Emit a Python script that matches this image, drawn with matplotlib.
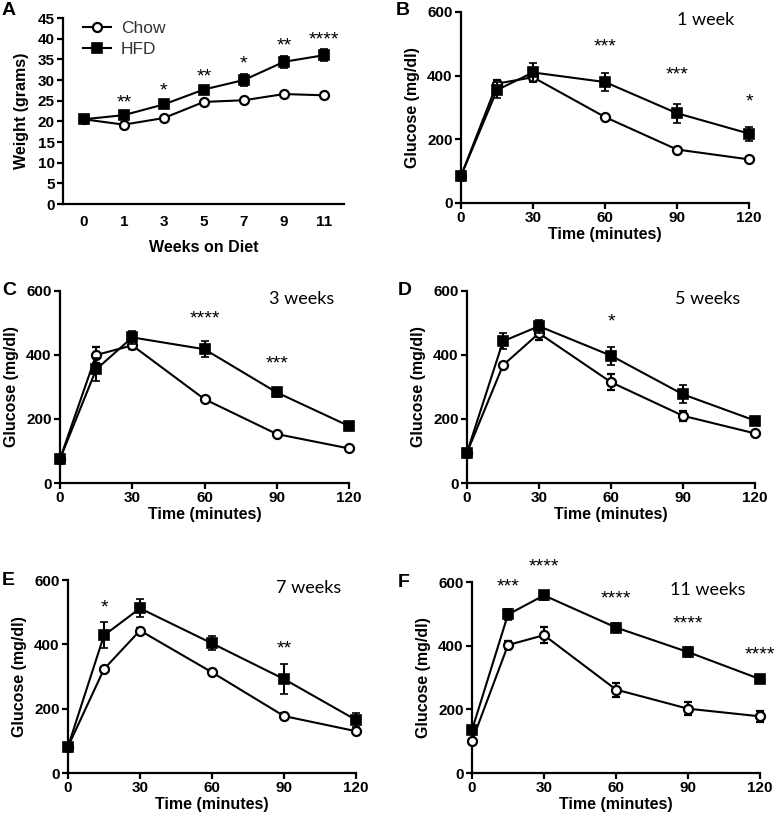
import matplotlib
matplotlib.use("Agg")
import matplotlib.pyplot as plt
from matplotlib.lines import Line2D

plt.rcParams['font.family'] = ['Liberation Sans', 'DejaVu Sans']

# --- Panel A: body weight ---
weeks = ['0', '1', '3', '5', '7', '9', '11']
chow_wt = [20.5, 19.2, 20.8, 24.7, 25.1, 26.6, 26.3]
chow_wt_err = [0.4, 0.4, 0.5, 0.5, 0.5, 0.5, 0.5]
hfd_wt = [20.5, 21.5, 24.1, 27.7, 30.0, 34.4, 36.0]
hfd_wt_err = [0.4, 0.5, 0.8, 0.7, 1.5, 1.5, 1.4]
wt_stars = ['', '**', '*', '**', '*', '**', '****']

# --- Panels B-F: glucose tolerance ---
times = [0, 15, 30, 60, 90, 120]
gtt_titles = ['1 week', '3 weeks', '5 weeks', '7 weeks', '11 weeks']
gtt_letters = ['B', 'C', 'D', 'E', 'F']
chow_glu = [
    [85, 375, 395, 270, 168, 137],
    [75, 400, 430, 262, 153, 108],
    [95, 368, 468, 315, 210, 155],
    [82, 323, 443, 313, 177, 130],
    [100, 402, 433, 262, 202, 178],
]
chow_glu_err = [
    [8, 10, 12, 8, 6, 6],
    [8, 25, 10, 8, 6, 6],
    [8, 8, 20, 25, 15, 6],
    [8, 8, 8, 8, 8, 6],
    [8, 12, 25, 22, 20, 18],
]
hfd_glu = [
    [85, 355, 410, 380, 282, 218],
    [75, 355, 455, 418, 283, 178],
    [95, 443, 490, 398, 277, 195],
    [82, 428, 512, 403, 292, 165],
    [135, 498, 558, 457, 380, 295],
]
hfd_glu_err = [
    [8, 25, 30, 28, 30, 22],
    [8, 35, 20, 25, 15, 8],
    [8, 25, 20, 28, 28, 8],
    [8, 40, 28, 22, 47, 22],
    [8, 18, 15, 15, 15, 8],
]
# (time, label, y position in mg/dl)
glu_stars = [
    [(60, '***', 462), (90, '***', 377), (120, '*', 290)],
    [(60, '****', 487), (90, '***', 344)],
    [(60, '*', 477)],
    [(15, '*', 487), (90, '**', 360)],
    [(15, '***', 557), (30, '****', 619), (60, '****', 520), (90, '****', 442), (120, '****', 344)],
]

W, H = 777, 821
fig = plt.figure(figsize=(W / 100, H / 100), dpi=100)

def add_ax(left, right, top, bottom):
    return fig.add_axes([left / W, 1 - bottom / H, (right - left) / W, (bottom - top) / H])

def style(ax):
    for s in ['top', 'right']:
        ax.spines[s].set_visible(False)
    for s in ['left', 'bottom']:
        ax.spines[s].set_linewidth(1.6)
    ax.tick_params(width=1.6, length=4, labelsize=11, pad=2)
    for lab in ax.get_xticklabels() + ax.get_yticklabels():
        lab.set_fontweight('bold')

def draw_pair(ax, x, c, ce, h, he):
    ax.errorbar(x, c, yerr=ce, color='black', lw=1.5, marker='o', ms=6.5, mfc='white',
                mew=1.6, capsize=3, elinewidth=1.5, capthick=1.5, clip_on=False, zorder=3)
    ax.errorbar(x, h, yerr=he, color='black', lw=1.5, marker='s', ms=6.5, mfc='black',
                mew=1.2, capsize=3, elinewidth=1.5, capthick=1.5, clip_on=False, zorder=4)

# Panel A
axA = add_ax(63, 344, 18, 204)
xi = list(range(len(weeks)))
draw_pair(axA, xi, chow_wt, chow_wt_err, hfd_wt, hfd_wt_err)
axA.set_xlim(-0.52, 6.5)
axA.set_ylim(0, 45)
axA.set_yticks(range(0, 46, 5))
axA.set_xticks(xi)
axA.set_xticklabels(weeks)
axA.set_ylabel('Weight (grams)', fontsize=11.5, fontweight='bold', labelpad=6)
axA.set_xlabel('Weeks on Diet', fontsize=11.5, fontweight='bold', labelpad=8)
for i, s in enumerate(wt_stars):
    if s:
        axA.text(i, hfd_wt[i] + hfd_wt_err[i] + 0.3, s, ha='center', va='bottom', fontsize=14)
style(axA)
axA.tick_params(axis='x', length=0, pad=8)
handles = [
    Line2D([], [], color='black', lw=1.5, marker='o', ms=6.5, mfc='white', mew=1.6),
    Line2D([], [], color='black', lw=1.5, marker='s', ms=6.5, mfc='black', mew=1.2),
]
leg = axA.legend(handles, ['Chow', 'HFD'], loc='upper left', frameon=False, fontsize=12.5,
                 handlelength=1.6, handletextpad=0.6, borderaxespad=0.1,
                 bbox_to_anchor=(0.04, 1.03), labelspacing=0.3)
for t in leg.get_texts():
    t.set_color('#333333')
fig.text(2 / W, 1 - 2 / H, 'A', fontsize=14, fontweight='bold', va='top')

# Panels B-F
boxes = [
    (461, 749, 12, 203),
    (60, 349, 291, 483),
    (467, 755, 291, 483),
    (68, 356, 580, 773),
    (472, 760, 582, 773),
]
letter_pos = [(396, 2), (2, 282), (398, 282), (2, 572), (398, 574)]
for k in range(5):
    ax = add_ax(*boxes[k])
    draw_pair(ax, times, chow_glu[k], chow_glu_err[k], hfd_glu[k], hfd_glu_err[k])
    ax.set_xlim(0, 120)
    ax.set_ylim(0, 600)
    ax.set_xticks([0, 30, 60, 90, 120])
    ax.set_yticks([0, 200, 400, 600])
    ax.set_xlabel('Time (minutes)', fontsize=11.5, fontweight='bold', labelpad=1)
    ax.set_ylabel('Glucose (mg/dl)', fontsize=11.5, fontweight='bold', labelpad=5)
    for t, s, yv in glu_stars[k]:
        ax.text(t, yv, s, ha='center', va='bottom', fontsize=14, clip_on=False)
    ax.text(0.95, 1.0, gtt_titles[k], transform=ax.transAxes, ha='right', va='top',
            fontsize=13, family=['Lato', 'DejaVu Sans'])
    style(ax)
    lx, ly = letter_pos[k]
    fig.text(lx / W, 1 - ly / H, gtt_letters[k], fontsize=14, fontweight='bold', va='top')

fig.savefig('out.png', dpi=100)
